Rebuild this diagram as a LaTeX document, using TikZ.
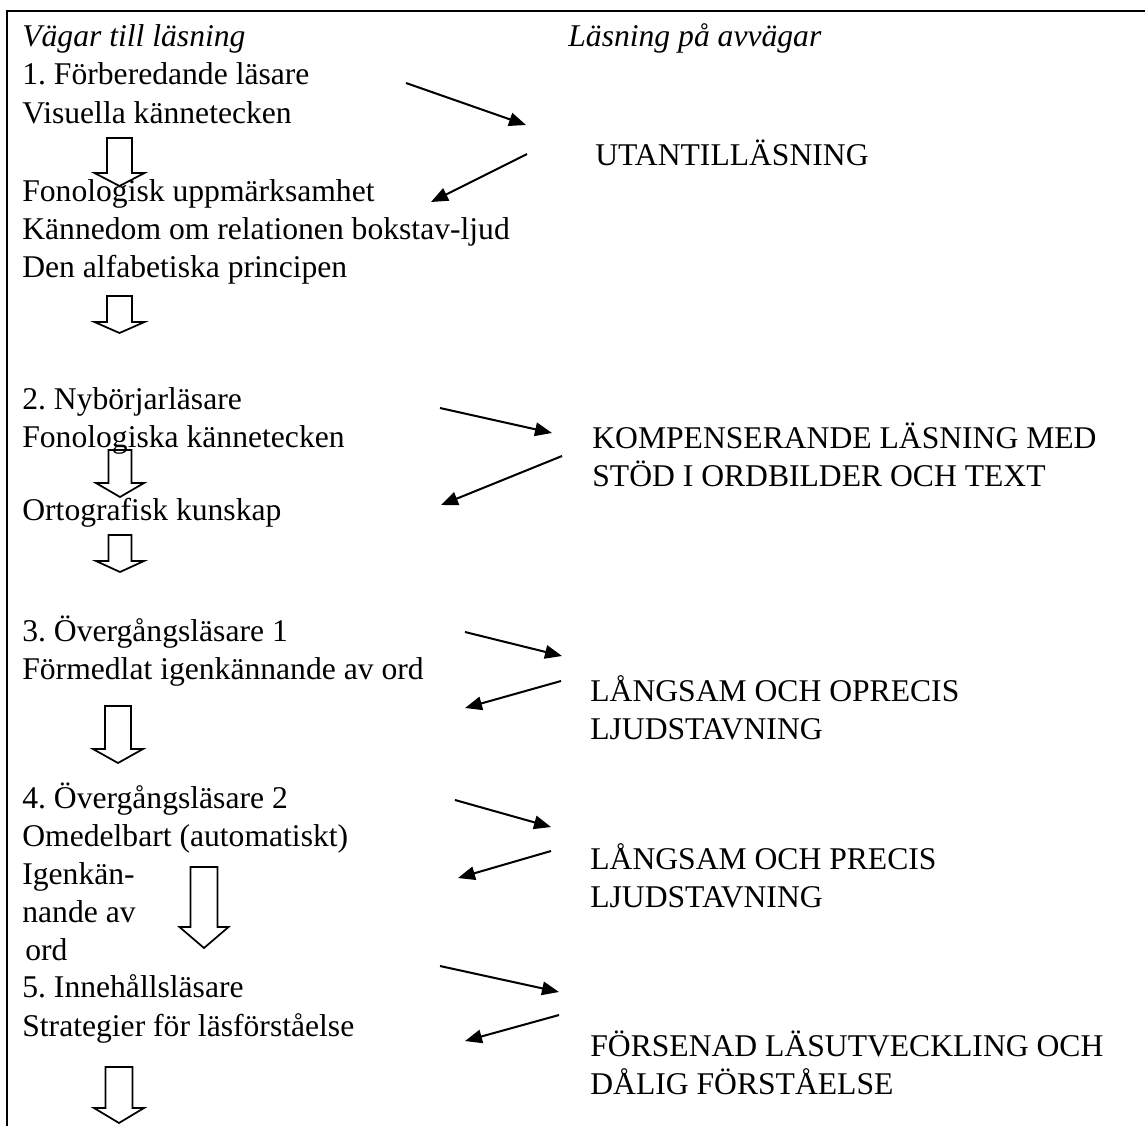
\documentclass[tikz,border=0pt]{standalone}
\usepackage{fontspec}
\setmainfont{Liberation Serif}
\usetikzlibrary{arrows.meta,calc}
\frenchspacing
\tikzset{
  txt/.style={anchor=base west,inner sep=0pt,font=\fontsize{18}{21.6}\selectfont},
  rubrik/.style={txt,font=\fontsize{18}{21.6}\selectfont\itshape},
  pil/.style={line width=1.15pt,-{Triangle[length=0.34cm,width=0.27cm]}},
  blockpil/.style={line width=1pt,line join=miter},
  ram/.style={line width=1.5pt}
}
% hollow down arrow: centre x, top, head base, tip, half shaft, half head
\newcommand{\hollowdown}[6]{%
  \draw[blockpil] (#1-#5,#2) -- (#1+#5,#2) -- (#1+#5,#3) -- (#1+#6,#3)
    -- (#1,#4) -- (#1-#6,#3) -- (#1-#5,#3) -- cycle;}

\begin{document}
\begin{tikzpicture}[x=0.02cm,y=-0.02cm]
  \useasboundingbox (0,0) rectangle (1145,1126);
  \draw[ram] (7,1126) -- (7,11) -- (1145,11);
  % left column
  \node[rubrik] (v0) at (22,46) {Vägar till läsning};
  \node[txt] (s1a) at (22,84) {1. Förberedande läsare};
  \node[txt] (s1b) at (22,123) {Visuella kännetecken};
  \node[txt] (s1c) at (22,201) {Fonologisk uppmärksamhet};
  \node[txt] (s1d) at (22,239) {Kännedom om relationen bokstav-ljud};
  \node[txt] (s1e) at (22,277) {Den alfabetiska principen};
  \node[txt] (s2a) at (22,409) {2. Nybörjarläsare};
  \node[txt] (s2b) at (22,447) {Fonologiska kännetecken};
  \node[txt] (s2c) at (22,520) {Ortografisk kunskap};
  \node[txt] (s3a) at (22,641) {3. Övergångsläsare 1};
  \node[txt] (s3b) at (22,679) {Förmedlat igenkännande av ord};
  \node[txt] (s4a) at (22,808) {4. Övergångsläsare 2};
  \node[txt] (s4b) at (22,846) {Omedelbart (automatiskt)};
  \node[txt] (s4c) at (22,884) {Igenkän-};
  \node[txt] (s4d) at (22,922) {nande av};
  \node[txt] (s4e) at (25,960) {ord};
  \node[txt] (s5a) at (22,997) {5. Innehållsläsare};
  \node[txt] (s5b) at (22,1036) {Strategier för läsförståelse};
  % right column
  \node[rubrik] (h0) at (568,46) {Läsning på avvägar};
  \node[txt] (u1) at (595,165) {UTANTILLÄSNING};
  \node[txt] (k1) at (592,448) {KOMPENSERANDE LÄSNING MED};
  \node[txt] (k2) at (592,486) {STÖD I ORDBILDER OCH TEXT};
  \node[txt] (o1) at (590,701) {LÅNGSAM OCH OPRECIS};
  \node[txt] (o2) at (590,739) {LJUDSTAVNING};
  \node[txt] (p1) at (590,869) {LÅNGSAM OCH PRECIS};
  \node[txt] (p2) at (590,907) {LJUDSTAVNING};
  \node[txt] (f1) at (590,1056) {FÖRSENAD LÄSUTVECKLING OCH};
  \node[txt] (f2) at (590,1094) {DÅLIG FÖRSTÅELSE};
  % arrow ends
  \coordinate (a1) at (406,83);   \coordinate (b1) at (526,125);
  \coordinate (a2) at (527,154);  \coordinate (b2) at (431,202);
  \coordinate (a3) at (440,408);  \coordinate (b3) at (552,433);
  \coordinate (a4) at (562,456);  \coordinate (b4) at (441,505);
  \coordinate (a5) at (465,632);  \coordinate (b5) at (562,656);
  \coordinate (a6) at (561,681);  \coordinate (b6) at (465,708);
  \coordinate (a7) at (455,800);  \coordinate (b7) at (551,827);
  \coordinate (a8) at (551,851);  \coordinate (b8) at (458,878);
  \coordinate (a9) at (440,966);  \coordinate (b9) at (559,992);
  \coordinate (a10) at (559,1015); \coordinate (b10) at (465,1041);
  \foreach \i in {1,...,10}
    \draw[pil] (a\i) -- (b\i);
  % hollow arrows
  \hollowdown{119.5}{138}{173}{186}{12.5}{25}
  \hollowdown{119.5}{296}{322}{333}{12.5}{25}
  \hollowdown{120}{450}{483}{497}{11.5}{24}
  \hollowdown{120}{535}{561}{572}{11.5}{24}
  \hollowdown{118}{706}{749}{763}{13}{25}
  \hollowdown{204}{867}{927}{948}{13.5}{24.5}
  \hollowdown{119}{1067}{1108}{1123}{13.5}{25}
\end{tikzpicture}
\end{document}
